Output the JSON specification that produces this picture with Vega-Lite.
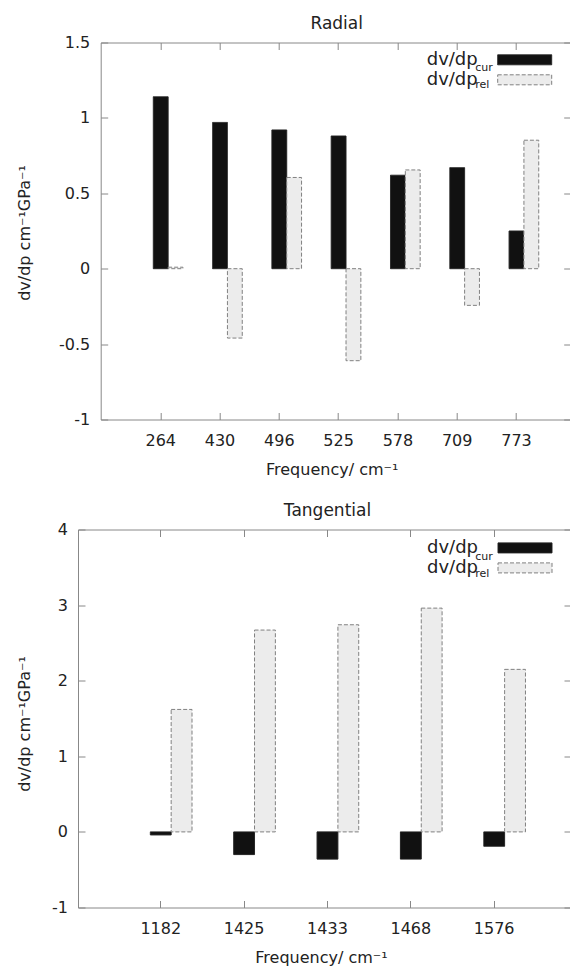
{
  "$schema": "https://vega.github.io/schema/vega-lite/v6.json",
  "padding": {"left": 16, "top": 14.5, "right": 0, "bottom": 0},
  "background": "white",
  "config": {
    "font": "DejaVu Sans",
    "view": {"stroke": "#888888", "strokeWidth": 1},
    "axis": {"domain": false, "grid": false, "tickColor": "#888888", "tickSize": -7, "tickWidth": 1,
      "labelFont": "DejaVu Sans", "labelFontSize": 16, "labelColor": "#222222",
      "titleFont": "DejaVu Sans", "titleFontSize": 16, "titleFontWeight": "normal", "titleColor": "#222222"},
    "title": {"font": "DejaVu Sans", "fontSize": 17, "fontWeight": "normal", "color": "#222222"}
  },
  "datasets": {
    "radial": [
      {"freq": "264", "series": "cur", "value": 1.14},
      {"freq": "264", "series": "rel", "value": 0.01},
      {"freq": "430", "series": "cur", "value": 0.97},
      {"freq": "430", "series": "rel", "value": -0.46},
      {"freq": "496", "series": "cur", "value": 0.92},
      {"freq": "496", "series": "rel", "value": 0.605},
      {"freq": "525", "series": "cur", "value": 0.88},
      {"freq": "525", "series": "rel", "value": -0.61},
      {"freq": "578", "series": "cur", "value": 0.62},
      {"freq": "578", "series": "rel", "value": 0.655},
      {"freq": "709", "series": "cur", "value": 0.67},
      {"freq": "709", "series": "rel", "value": -0.243},
      {"freq": "773", "series": "cur", "value": 0.25},
      {"freq": "773", "series": "rel", "value": 0.852}
    ],
    "tangential": [
      {"freq": "1182", "series": "cur", "value": -0.04},
      {"freq": "1182", "series": "rel", "value": 1.62},
      {"freq": "1425", "series": "cur", "value": -0.30},
      {"freq": "1425", "series": "rel", "value": 2.67},
      {"freq": "1433", "series": "cur", "value": -0.36},
      {"freq": "1433", "series": "rel", "value": 2.74},
      {"freq": "1468", "series": "cur", "value": -0.36},
      {"freq": "1468", "series": "rel", "value": 2.96},
      {"freq": "1576", "series": "cur", "value": -0.19},
      {"freq": "1576", "series": "rel", "value": 2.15}
    ]
  },
  "columns": 1,
  "align": "none",
  "spacing": 23,
  "concat": [
    {
      "hconcat": [
        {
          "width": 1,
          "height": 377,
          "view": {"stroke": null},
          "data": {"values": []},
          "mark": "point",
          "encoding": {}
        },
        {
          "width": 470,
          "height": 377,
          "title": {"text": "Radial", "anchor": "middle", "offset": 1.5, "dx": 1},
          "data": {"name": "radial"},
          "layer": [
            {
              "mark": {"type": "bar", "strokeWidth": 1},
              "encoding": {
                "x": {"field": "freq", "type": "ordinal",
                  "scale": {"type": "band", "paddingInner": 0, "paddingOuter": 0.463, "align": 0.553},
                  "axis": {"orient": "bottom", "title": "Frequency/ cm⁻¹", "labelAngle": 0, "labelPadding": 20,
                    "titleBaseline": "middle", "titleY": 50, "titleX": 231}},
                "xOffset": {"field": "series", "type": "nominal",
                  "scale": {"domain": ["cur", "rel"], "paddingInner": 0, "paddingOuter": 1, "align": 0.75}},
                "y": {"field": "value", "type": "quantitative",
                  "scale": {"domain": [-1, 1.5], "nice": false},
                  "axis": {"values": [-1, -0.5, 0, 0.5, 1, 1.5], "labelExpr": "toString(datum.value)", "labelPadding": 18,
                    "title": "dv/dp cm⁻¹GPa⁻¹", "titleX": -76, "titleY": 190, "titleBaseline": "middle"}},
                "fill": {"field": "series", "type": "nominal", "scale": {"range": ["#111111", "#ececec"]},
                  "legend": {"title": null, "orient": "none", "legendX": 415, "legendY": 8.3, "padding": 0,
                    "symbolType": "M-5.4,-1H5.4V1H-5.4Z", "symbolSize": 100, "symbolStrokeWidth": 1,
                    "labelExpr": "'dv/dp'", "labelAlign": "right", "labelOffset": -56, "labelFontSize": 18,
                    "labelFont": "DejaVu Sans", "labelColor": "#222222", "rowPadding": 2}},
                "stroke": {"field": "series", "type": "nominal", "scale": {"range": ["#222222", "#808080"]},
                  "legend": {"title": null, "orient": "none", "legendX": 415, "legendY": 8.3, "padding": 0,
                    "symbolType": "M-5.4,-1H5.4V1H-5.4Z", "symbolSize": 100, "symbolStrokeWidth": 1,
                    "labelExpr": "'dv/dp'", "labelAlign": "right", "labelOffset": -56, "labelFontSize": 18,
                    "labelFont": "DejaVu Sans", "labelColor": "#222222", "rowPadding": 2}},
                "strokeDash": {"field": "series", "type": "nominal", "scale": {"range": [[1, 0], [4, 2]]},
                  "legend": {"title": null, "orient": "none", "legendX": 415, "legendY": 8.3, "padding": 0,
                    "symbolType": "M-5.4,-1H5.4V1H-5.4Z", "symbolSize": 100, "symbolStrokeWidth": 1,
                    "labelExpr": "'dv/dp'", "labelAlign": "right", "labelOffset": -56, "labelFontSize": 18,
                    "labelFont": "DejaVu Sans", "labelColor": "#222222", "rowPadding": 2}},
                "opacity": {"field": "series", "type": "ordinal", "scale": {"domain": ["cur", "rel"], "range": [1, 1]},
                  "legend": {"title": null, "orient": "none", "legendX": 363.5, "legendY": 19.8, "padding": 0,
                    "symbolType": "M-0.5,-1.5H0.5V1.5H-0.5Z", "symbolSize": 100,
                    "symbolFillColor": "transparent", "symbolStrokeColor": "transparent", "symbolStrokeWidth": 0,
                    "encode": {"symbols": {"update": {"opacity": {"value": 0}}}},
                    "labelFontSize": 11, "labelFont": "DejaVu Sans", "labelColor": "#222222", "labelOffset": 0, "rowPadding": 2}}
              }
            },
            {
              "mark": {"type": "point", "opacity": 0},
              "encoding": {
                "x": {"field": "freq", "type": "ordinal", "axis": {"orient": "top", "labels": false, "title": null}},
                "y": {"field": "value", "type": "quantitative",
                  "axis": {"orient": "right", "labels": false, "title": null, "values": [-1, -0.5, 0, 0.5, 1, 1.5]}}
              }
            }
          ],
          "resolve": {"axis": {"x": "independent", "y": "independent"}}
        }
      ],
      "spacing": 21.7,
      "bounds": "flush",
      "resolve": {
        "scale": {"x": "independent", "y": "independent", "fill": "independent", "stroke": "independent", "strokeDash": "independent", "opacity": "independent"},
        "legend": {"fill": "independent", "stroke": "independent", "strokeDash": "independent", "opacity": "independent"}
      }
    },
    {
      "width": 493,
      "height": 378,
      "title": {"text": "Tangential", "anchor": "middle", "offset": 1.5, "dx": 3},
      "data": {"name": "tangential"},
      "layer": [
        {
          "mark": {"type": "bar", "strokeWidth": 1},
          "encoding": {
            "x": {"field": "freq", "type": "ordinal",
              "scale": {"type": "band", "paddingInner": 0, "paddingOuter": 0.457, "align": 0.539},
              "axis": {"orient": "bottom", "title": "Frequency/ cm⁻¹", "labelAngle": 0, "labelPadding": 19.5,
                "titleBaseline": "middle", "titleY": 49.5, "titleX": 243}},
            "xOffset": {"field": "series", "type": "nominal",
              "scale": {"domain": ["cur", "rel"], "paddingInner": 0, "paddingOuter": 1, "align": 0.75}},
            "y": {"field": "value", "type": "quantitative",
              "scale": {"domain": [-1, 4], "nice": false},
              "axis": {"values": [-1, 0, 1, 2, 3, 4], "labelExpr": "toString(datum.value)", "labelPadding": 17.5,
                "title": "dv/dp cm⁻¹GPa⁻¹", "titleX": -53.3, "titleY": 194, "titleBaseline": "middle"}},
            "fill": {"field": "series", "type": "nominal", "scale": {"range": ["#111111", "#ececec"]},
              "legend": {"title": null, "orient": "none", "legendX": 438, "legendY": 9.4, "padding": 0,
                "symbolType": "M-5.4,-1H5.4V1H-5.4Z", "symbolSize": 100, "symbolStrokeWidth": 1,
                "labelExpr": "'dv/dp'", "labelAlign": "right", "labelOffset": -56, "labelFontSize": 18,
                "labelFont": "DejaVu Sans", "labelColor": "#222222", "rowPadding": 2}},
            "stroke": {"field": "series", "type": "nominal", "scale": {"range": ["#222222", "#808080"]},
              "legend": {"title": null, "orient": "none", "legendX": 438, "legendY": 9.4, "padding": 0,
                "symbolType": "M-5.4,-1H5.4V1H-5.4Z", "symbolSize": 100, "symbolStrokeWidth": 1,
                "labelExpr": "'dv/dp'", "labelAlign": "right", "labelOffset": -56, "labelFontSize": 18,
                "labelFont": "DejaVu Sans", "labelColor": "#222222", "rowPadding": 2}},
            "strokeDash": {"field": "series", "type": "nominal", "scale": {"range": [[1, 0], [4, 2]]},
              "legend": {"title": null, "orient": "none", "legendX": 438, "legendY": 9.4, "padding": 0,
                "symbolType": "M-5.4,-1H5.4V1H-5.4Z", "symbolSize": 100, "symbolStrokeWidth": 1,
                "labelExpr": "'dv/dp'", "labelAlign": "right", "labelOffset": -56, "labelFontSize": 18,
                "labelFont": "DejaVu Sans", "labelColor": "#222222", "rowPadding": 2}},
            "opacity": {"field": "series", "type": "ordinal", "scale": {"domain": ["cur", "rel"], "range": [1, 1]},
              "legend": {"title": null, "orient": "none", "legendX": 386.2, "legendY": 21.9, "padding": 0,
                "symbolType": "M-0.5,-1.5H0.5V1.5H-0.5Z", "symbolSize": 100,
                "symbolFillColor": "transparent", "symbolStrokeColor": "transparent", "symbolStrokeWidth": 0,
                "encode": {"symbols": {"update": {"opacity": {"value": 0}}}},
                "labelFontSize": 11, "labelFont": "DejaVu Sans", "labelColor": "#222222", "labelOffset": 0, "rowPadding": 2}}
          }
        },
        {
          "mark": {"type": "point", "opacity": 0},
          "encoding": {
            "x": {"field": "freq", "type": "ordinal", "axis": {"orient": "top", "labels": false, "title": null}},
            "y": {"field": "value", "type": "quantitative",
              "axis": {"orient": "right", "labels": false, "title": null, "values": [-1, 0, 1, 2, 3, 4]}}
          }
        }
      ],
      "resolve": {"axis": {"x": "independent", "y": "independent"}}
    }
  ],
  "resolve": {
    "scale": {"x": "independent", "y": "independent", "xOffset": "independent", "fill": "independent", "stroke": "independent", "strokeDash": "independent", "opacity": "independent"},
    "legend": {"fill": "independent", "stroke": "independent", "strokeDash": "independent", "opacity": "independent"}
  }
}
